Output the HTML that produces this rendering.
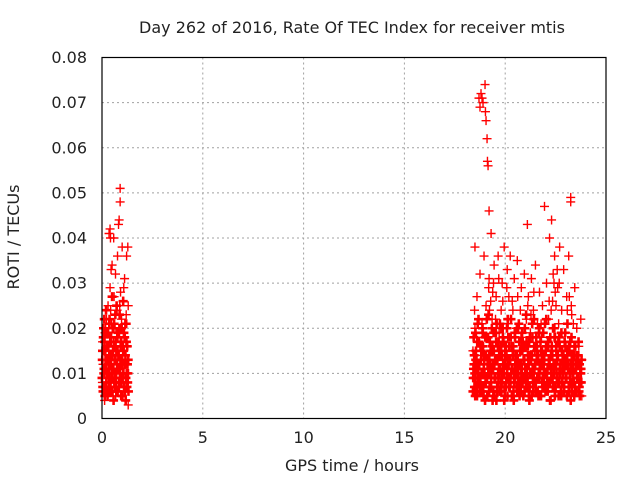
<!DOCTYPE html>
<html><head><meta charset="utf-8"><style>
body{margin:0;background:#fff;}
svg text{font-family:"DejaVu Sans","Liberation Sans",sans-serif;fill:#222;}
</style></head><body>
<svg id="chart" width="640" height="480" xmlns="http://www.w3.org/2000/svg">
<rect width="640" height="480" fill="#fff"/>
<text x="352" y="33" font-size="16" text-anchor="middle">Day 262 of 2016, Rate Of TEC Index for receiver mtis</text>
<text x="352" y="471" font-size="16" text-anchor="middle">GPS time / hours</text>
<text transform="translate(19,237) rotate(-90)" font-size="16" text-anchor="middle">ROTI / TECUs</text>
<g id="grid"></g>
<g id="ticks"></g>
<g id="marks"></g>
<rect x="102" y="57.5" width="504" height="361" fill="none" stroke="#000" stroke-width="1.2"/>
</svg>
<script>
const xTicks=[0,5,10,15,20,25];
const yTicks=[0,0.01,0.02,0.03,0.04,0.05,0.06,0.07,0.08];
const yTickLabels=["0","0.01","0.02","0.03","0.04","0.05","0.06","0.07","0.08"];
const clusterA=[[0.02,.008],[0.05,.012],[0.08,.006],[0.1,.015],[0.12,.010],[0.15,.019],[0.18,.007],[0.2,.013],[0.22,.022],[0.25,.009],[0.28,.016],[0.3,.025],[0.32,.011],[0.35,.041],[0.36,.006],[0.38,.018],[0.4,.029],[0.42,.012],[0.45,.008],[0.47,.021],[0.5,.034],[0.52,.014],[0.55,.005],[0.57,.017],[0.6,.027],[0.62,.010],[0.65,.020],[0.67,.032],[0.7,.013],[0.72,.008],[0.75,.024],[0.77,.036],[0.8,.015],[0.82,.011],[0.85,.044],[0.87,.019],[0.9,.051],[0.9,.048],[0.92,.028],[0.95,.009],[0.97,.022],[1.0,.038],[1.02,.014],[1.05,.026],[1.07,.007],[1.1,.018],[1.12,.031],[1.15,.012],[1.17,.004],[1.2,.023],[1.22,.036],[1.25,.016],[1.27,.010],[1.3,.025],[1.3,.003],[1.28,.038],[0.03,.017],[0.13,.004],[0.23,.006],[0.33,.014],[0.43,.024],[0.53,.009],[0.63,.016],[0.73,.019],[0.83,.007],[0.93,.013],[1.03,.010],[1.13,.021],[1.23,.008],[0.58,.040],[0.98,.017],[0.68,.005],[0.48,.012],[0.18,.020],[0.88,.025],[1.08,.029],[0.4,.042],[0.42,.040],[0.82,.043],[0.45,.033]];
const clusterB=[[18.4,.015],[18.45,.009],[18.5,.020],[18.5,.038],[18.55,.012],[18.6,.027],[18.6,.006],[18.65,.017],[18.7,.011],[18.7,.071],[18.75,.032],[18.75,.069],[18.8,.008],[18.8,.072],[18.85,.021],[18.85,.071],[18.9,.014],[18.9,.070],[18.95,.036],[19.0,.010],[19.0,.074],[19.02,.068],[19.05,.025],[19.05,.066],[19.1,.062],[19.1,.005],[19.12,.057],[19.15,.018],[19.15,.056],[19.2,.046],[19.2,.031],[19.25,.012],[19.3,.041],[19.3,.007],[19.35,.022],[19.4,.015],[19.45,.034],[19.5,.009],[19.55,.027],[19.6,.013],[19.65,.036],[19.7,.019],[19.75,.006],[19.8,.024],[19.85,.030],[19.9,.011],[19.95,.038],[20.0,.016],[20.05,.008],[20.1,.033],[20.15,.021],[20.2,.012],[20.25,.036],[20.3,.005],[20.35,.026],[20.4,.015],[20.45,.031],[20.5,.009],[20.55,.020],[20.6,.035],[20.65,.013],[20.7,.007],[20.75,.024],[20.8,.029],[20.85,.011],[20.9,.017],[20.95,.032],[21.0,.008],[21.05,.022],[21.1,.043],[21.1,.014],[21.15,.027],[21.2,.006],[21.25,.019],[21.3,.031],[21.35,.010],[21.4,.024],[21.45,.015],[21.5,.034],[21.55,.008],[21.6,.021],[21.65,.013],[21.7,.028],[21.75,.005],[21.8,.018],[21.85,.025],[21.9,.011],[21.95,.047],[22.0,.016],[22.05,.030],[22.1,.009],[22.15,.022],[22.2,.040],[22.25,.014],[22.3,.044],[22.35,.026],[22.4,.007],[22.45,.036],[22.5,.018],[22.55,.012],[22.6,.029],[22.65,.021],[22.7,.038],[22.75,.010],[22.8,.024],[22.85,.015],[22.9,.033],[22.95,.006],[23.0,.019],[23.05,.027],[23.1,.011],[23.15,.036],[23.2,.017],[23.25,.049],[23.25,.048],[23.3,.023],[23.35,.008],[23.4,.014],[23.45,.029],[23.5,.012],[23.55,.020],[23.6,.006],[23.65,.016],[23.7,.010],[23.75,.022],[23.8,.013],[23.8,.005],[18.48,.024],[18.58,.018],[19.28,.026],[19.78,.020],[20.28,.022],[20.78,.018],[21.28,.023],[21.78,.021],[22.28,.024],[22.78,.019],[23.28,.025],[19.18,.029],[19.38,.028],[19.68,.031],[20.18,.027],[22.38,.032],[22.48,.028],[22.68,.030],[23.18,.027],[19.22,.024],[19.42,.030],[19.52,.022],[19.88,.026],[20.08,.029],[20.38,.024],[20.62,.027],[21.12,.025],[21.42,.028],[22.18,.026],[22.42,.030],[22.52,.025],[22.58,.033],[23.08,.024],[23.38,.021]];
const fillA=[.009,.015,.006,.020,.011,.017,.007,.013,.024,.010,.016,.005,.019,.012,.008,.022,.014,.006,.018,.011,.027,.009,.015,.004,.021,.013,.007,.017,.010,.025,.012,.006,.019,.014,.008,.023,.011,.016,.005,.020,.013,.009,.026,.015,.007,.018,.012,.004,.021,.010,.016,.008,.013];
const fillA2=[.013,.007,.018,.010,.022,.005,.015,.011,.008,.019,.013,.006,.016,.010,.021,.012,.007,.017,.009,.014,.006,.020,.011,.016,.008,.013,.023,.009,.015,.006,.018,.011,.014,.007,.020,.010,.013,.017,.008,.012,.005,.016,.010,.019,.012,.006,.014,.009,.017,.007,.012,.010,.006];
const fillB1=[.006,.012,.009,.015,.005,.011,.017,.008,.013,.007,.016,.010,.004,.014,.009,.018,.006,.012,.008,.015,.011,.005,.013,.017,.007,.010,.014,.006,.016,.009,.012,.004,.015,.008,.011,.018,.007,.013,.010,.005,.016,.009,.012,.014,.006,.011,.017,.008,.010,.015,.005,.013,.009,.016,.007,.012,.004,.014,.010,.018,.006,.011,.008,.015,.013,.005,.009,.017,.012,.007,.014,.010,.006,.016,.011,.008,.013,.004,.015,.009,.012,.018,.007,.010,.014,.005,.016,.011,.008,.013,.006,.017,.009,.012,.015,.007,.010,.004,.014,.011,.008,.016,.006,.013,.009,.012,.005,.010];
const fillB2=[.011,.007,.019,.013,.009,.022,.006,.016,.010,.020,.005,.014,.008,.018,.012,.023,.007,.015,.011,.004,.019,.009,.013,.021,.006,.017,.010,.014,.008,.020,.012,.005,.016,.009,.022,.013,.007,.018,.011,.015,.004,.019,.010,.014,.008,.021,.012,.006,.017,.009,.013,.020,.007,.011,.016,.005,.018,.010,.014,.008,.022,.012,.006,.016,.009,.019,.011,.005,.015,.013,.008,.021,.010,.007,.017,.012,.004,.014,.009,.020,.011,.006,.016,.013,.008,.018,.010,.005,.015,.012,.007,.019,.009,.014,.011,.006,.017,.008,.013,.010,.005,.016,.012,.009,.014,.007,.011,.008];
const fillB3=[.009,.014,.005,.011,.017,.008,.012,.006,.015,.010,.007,.013,.018,.009,.005,.011,.014,.007,.010,.016,.006,.012,.009,.004,.013,.008,.015,.011,.006,.010,.017,.007,.012,.014,.005,.009,.013,.008,.016,.011,.006,.010,.014,.007,.012,.009,.005,.015,.011,.008,.013,.006,.010,.017,.009,.012,.007,.014,.005,.011,.009,.016,.008,.013,.006,.010,.012,.005,.014,.009,.011,.007,.015,.010,.006,.013,.008,.011,.016,.007,.010,.005,.012,.009,.014,.008,.011,.006,.015,.010,.007,.013,.009,.005,.011,.016,.008,.012,.006,.010,.014,.007,.011,.009,.013,.006,.008,.011];
const fillB4=[.018,.010,.013,.007,.021,.012,.009,.016,.006,.019,.011,.014,.008,.022,.013,.010,.017,.007,.020,.012,.015,.009,.019,.006,.016,.011,.021,.008,.014,.018,.010,.013,.007,.020,.012,.016,.009,.022,.011,.014,.008,.018,.013,.010,.020,.007,.015,.012,.019,.009,.016,.011,.023,.008,.014,.017,.010,.013,.021,.007,.016,.012,.018,.009,.014,.020,.011,.015,.008,.019,.013,.010,.022,.008,.016,.012,.018,.009,.014,.011,.020,.007,.015,.013,.017,.010,.012,.019,.008,.014,.011,.016,.009,.021,.012,.015,.010,.018,.008,.013,.016,.011,.014,.009,.017,.012,.010,.013];
const fillAStart=0.0, fillAStep=0.025, fillBStart=18.4, fillBStep=0.05;

const X0=102,X1=606,Y0=418.5,Y1=57.5;
const xs=t=>X0+(t-0)/(25-0)*(X1-X0);
const ys=v=>Y0-(v-0)/(0.08-0)*(Y0-Y1);
const NS="http://www.w3.org/2000/svg";
const grid=document.getElementById('grid'),ticks=document.getElementById('ticks'),marks=document.getElementById('marks');
function mk(tag,attrs,parent){const e=document.createElementNS(NS,tag);for(const k in attrs)e.setAttribute(k,attrs[k]);parent.appendChild(e);return e;}
xTicks.forEach(t=>{
  const x=xs(t);
  if(t>0&&t<25){const g=mk('line',{x1:x,x2:x,y1:Y1,y2:Y0,stroke:'#a0a0a0','stroke-dasharray':'2,3'},grid);
  
  }
  const l=mk('text',{x:x,y:443,'font-size':'16','text-anchor':'middle'},ticks);l.textContent=String(t);
  
  
});
yTicks.forEach((v,i)=>{
  const y=ys(v);
  if(i>0&&i<yTicks.length-1){const g=mk('line',{x1:X0,x2:X1,y1:y,y2:y,stroke:'#a0a0a0','stroke-dasharray':'2,3'},grid);
  
  }
  const l=mk('text',{x:87,y:y+5.5,'font-size':'16','text-anchor':'end'},ticks);l.textContent=yTickLabels[i];
  
  
});
function plus(t,v,color,w){
  const x=xs(t),y=ys(v);
  const p=mk('path',{d:`M${x-4.5},${y}H${x+4.5}M${x},${y-4.5}V${y+4.5}`,stroke:color,'stroke-width':w,fill:'none'},marks);
  
  
}
const fillPts=[];
fillA.forEach((v,i)=>fillPts.push([fillAStart+i*fillAStep,v]));
fillA2.forEach((v,i)=>fillPts.push([fillAStart+0.0125+i*fillAStep,v]));
fillB1.forEach((v,i)=>fillPts.push([fillBStart+i*fillBStep,v]));
fillB2.forEach((v,i)=>fillPts.push([fillBStart+0.025+i*fillBStep,v]));
fillB3.forEach((v,i)=>fillPts.push([fillBStart+0.0125+i*fillBStep,v]));
fillB4.forEach((v,i)=>fillPts.push([fillBStart+0.0375+i*fillBStep,v]));
fillPts.forEach(p=>plus(p[0],p[1],'#ff0000','2.6'));
clusterA.forEach(p=>plus(p[0],p[1],'#ff0000','1.4'));
clusterB.forEach(p=>plus(p[0],p[1],'#ff0000','1.4'));
</script>
</body></html>
